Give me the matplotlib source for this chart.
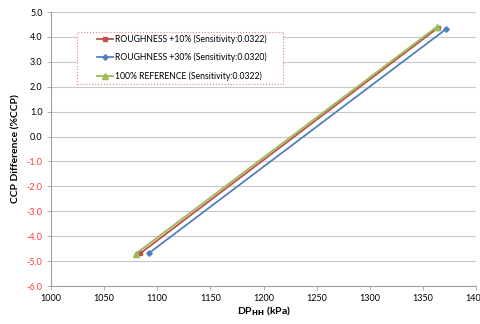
import matplotlib
matplotlib.use("Agg")
import matplotlib.pyplot as plt
from matplotlib.patches import Rectangle

plt.rcParams['font.family'] = ['Lato', 'DejaVu Sans']

series_labels = ["ROUGHNESS +10% (Sensitivity:0.0322)",
                 "ROUGHNESS +30% (Sensitivity:0.0320)",
                 "100% REFERENCE (Sensitivity:0.0322)"]
dp_r10 = [1084, 1364]
ccp_r10 = [-4.69, 4.36]
dp_r30 = [1092.5, 1372]
ccp_r30 = [-4.67, 4.32]
dp_ref = [1080, 1363]
ccp_ref = [-4.70, 4.40]

xticks = [1000, 1050, 1100, 1150, 1200, 1250, 1300, 1350, 1400]
yticks = [5.0, 4.0, 3.0, 2.0, 1.0, 0.0, -1.0, -2.0, -3.0, -4.0, -5.0, -6.0]

W, H = 481, 324
L, R, T, B = 51, 476, 12, 286
fig = plt.figure(figsize=(W/100, H/100), dpi=100)
ax = fig.add_axes([L/W, 1 - B/H, (R-L)/W, (B-T)/H])

def ax_coords(px, py):
    return ((px - L) / (R - L), (B - py) / (B - T))

ax.plot(dp_r10, ccp_r10, color='#C0504D', marker='s', markersize=3.5, lw=1.3, label=series_labels[0], zorder=3)
ax.plot(dp_r30, ccp_r30, color='#4F81BD', marker='D', markersize=2.8, lw=1.3, label=series_labels[1], zorder=3)
ax.plot(dp_ref, ccp_ref, color='#9BBB59', marker='^', markersize=3.8, lw=1.3, label=series_labels[2], zorder=3)

ax.set_xlim(1000, 1400)
ax.set_ylim(-6.0, 5.0)
ax.set_xticks(xticks)
ax.set_xticklabels([str(t) for t in xticks])
ax.set_yticks(yticks)
ax.set_yticklabels([f"{t:.1f}" for t in yticks])
for lab, t in zip(ax.get_yticklabels(), yticks):
    if t < 0:
        lab.set_color('#FF3B3B')
ax.tick_params(axis='both', labelsize=6.5, length=3, width=0.6, color='#A0A0A0', pad=3)

ax.grid(axis='y', color='#C8C8C8', lw=0.8)
ax.set_axisbelow(True)
for s in ['top', 'right']:
    ax.spines[s].set_visible(False)
for s in ['left', 'bottom']:
    ax.spines[s].set_color('#A0A0A0')
    ax.spines[s].set_linewidth(0.8)

ax.set_xlabel(r"DP$_{\mathbf{HH}}$ (kPa)", fontsize=7.5, fontweight='bold')
ax.xaxis.set_label_coords(0.5, -0.066)
ax.set_ylabel("CCP Difference (%CCP)", fontsize=7.5, fontweight='bold')
ax.yaxis.set_label_coords(-0.072, 0.5)

# legend frame
x0, y0 = ax_coords(77, 84)
x1, y1 = ax_coords(283, 32)
ax.add_patch(Rectangle((x0, y0), x1 - x0, y1 - y0, transform=ax.transAxes,
                       facecolor='white', edgecolor='#E88080', lw=0.8, ls=':', zorder=4))
lx, ly = ax_coords(97, 34)
leg = ax.legend(loc='upper left', bbox_to_anchor=(lx, ly), fontsize=6.2,
                frameon=False, handlelength=1.8, borderpad=0, labelspacing=1.05,
                borderaxespad=0, handletextpad=0.25)
leg.set_zorder(5)

fig.savefig("out.png", dpi=100)
